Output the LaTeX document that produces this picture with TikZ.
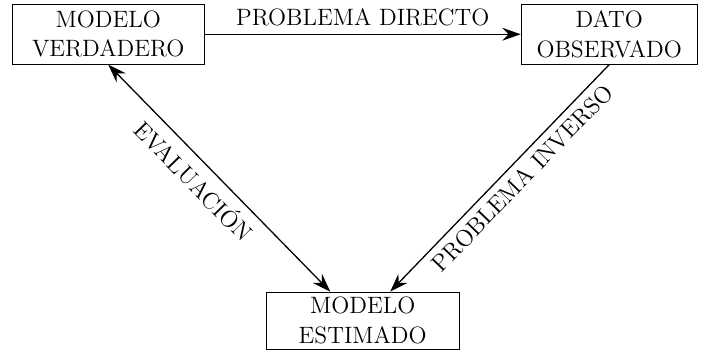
\documentclass[tikz,border=0pt]{standalone}
\usepackage{fontspec}
\usetikzlibrary{positioning,arrows.meta}
\tikzset{modelbox/.style={shape=rectangle, draw, align=center,
  minimum height=0.98cm, inner sep=0}, link/.style={->, line width=0.6pt}}

\begin{document}
\begin{tikzpicture}[>={Stealth[length=3mm, width=2.1mm, inset=1mm]},
    every node/.style={font=\fontsize{11pt}{13.6pt}\selectfont}]
    \useasboundingbox (0,0) rectangle (11.51,-5.77);
    \node [modelbox, minimum width=3.14cm] at (1.77,-0.56) (vt) {MODELO\\VERDADERO};
    \node [modelbox, minimum width=2.88cm] at (9.96,-0.56) (obs) {DATO\\OBSERVADO};
    \node [modelbox, minimum width=3.16cm, minimum height=0.93cm] at (5.93,-5.24) (est) {MODELO\\ESTIMADO};
    \draw [link] (vt) -- node [above] {PROBLEMA DIRECTO} (obs);
    \draw [link] (obs.south) -- node [sloped, below, pos=0.45] {PROBLEMA INVERSO} ([xshift=0.45cm]est.north);
    \draw [link, <->] (vt.south) -- node [sloped, below, pos=0.45] {EVALUACIÓN} ([xshift=-0.53cm]est.north);
\end{tikzpicture}
\end{document}
